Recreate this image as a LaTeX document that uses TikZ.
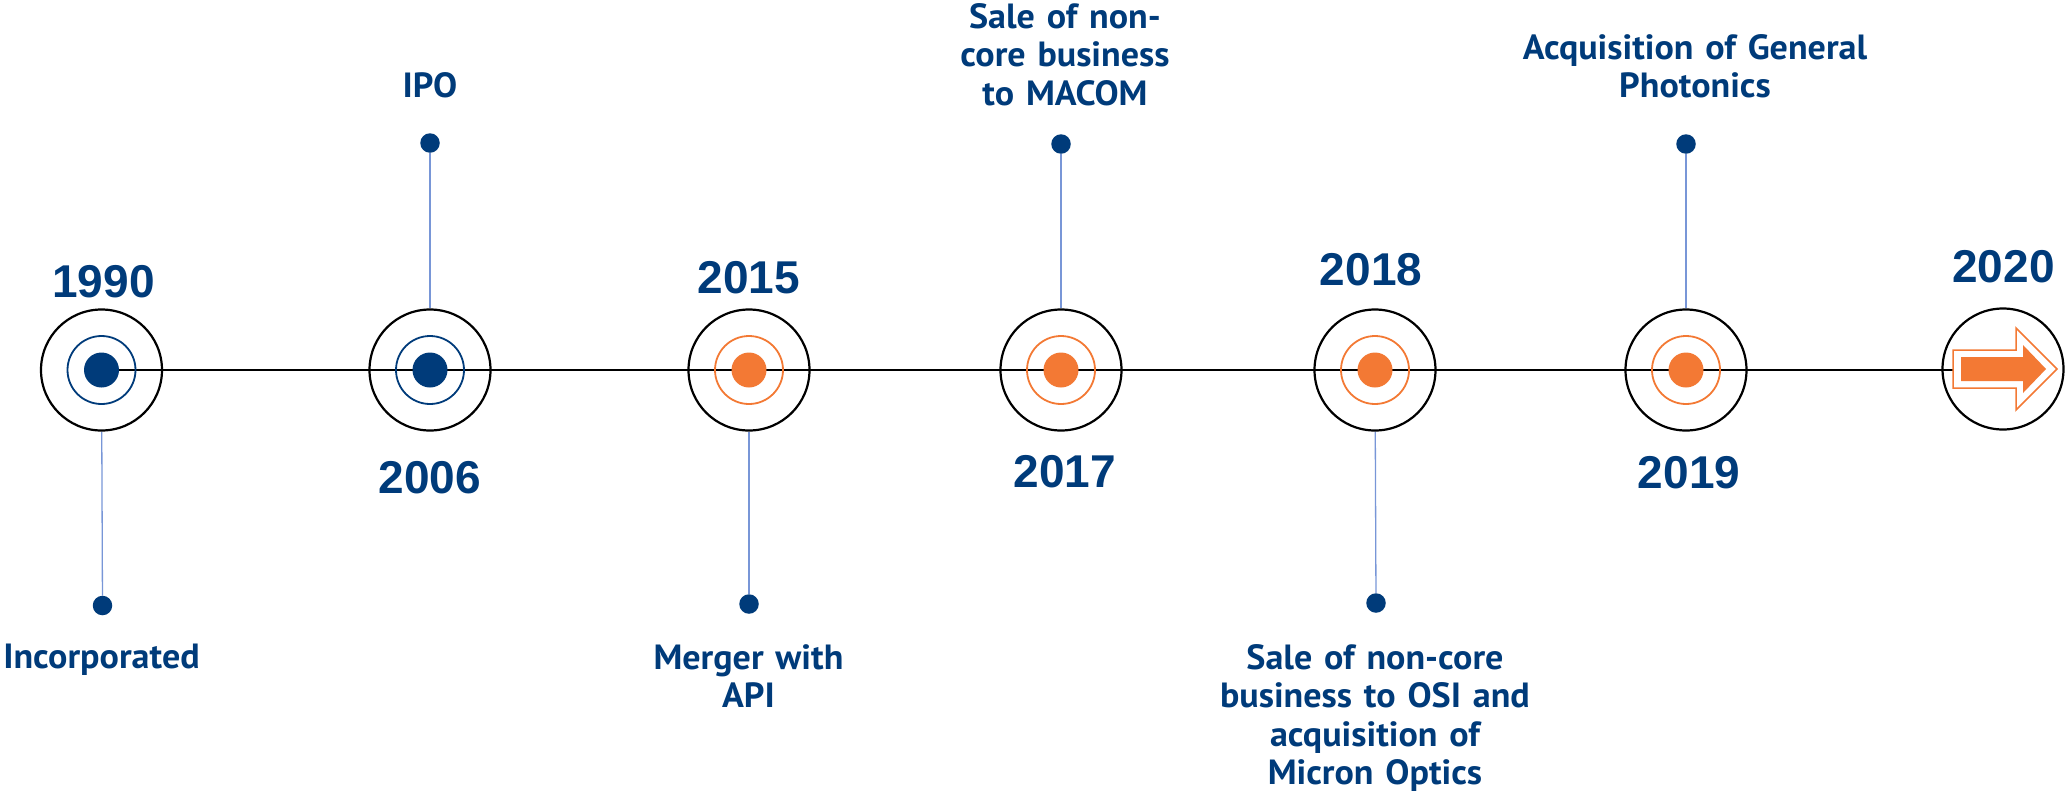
\documentclass[tikz,border=0pt]{standalone}
\usepackage{fontspec}
\newfontfamily\labelfont[WordSpace=1.3,FakeStretch=1.03]{PT Sans}
\newfontfamily\yearfont{Liberation Sans}
\definecolor{navy}{RGB}{0,59,122}
\definecolor{accent}{RGB}{243,121,52}
\definecolor{pinline}{RGB}{120,150,215}
\pgfdeclarelayer{bg}
\pgfsetlayers{bg,main}
\tikzset{
 outerring/.style={circle, draw=black, line width=2.2pt, minimum size=121pt, inner sep=0pt},
 ring/.style={circle, draw=#1, line width=1.8pt, minimum size=68pt, inner sep=0pt},
 core/.style={circle, fill=#1, minimum size=35pt, inner sep=0pt},
 pin/.style={circle, fill=navy, minimum size=19.5pt, inner sep=0pt},
 stem/.style={draw=pinline, line width=1.3pt},
 year/.style={anchor=base, inner sep=0pt, text=navy, font=\yearfont\bfseries\fontsize{46}{50}\selectfont},
 evt/.style={anchor=base, inner sep=0pt, text=navy, font=\labelfont\bfseries\fontsize{35}{38.5}\selectfont},
}
\begin{document}
\begin{tikzpicture}[x=1pt,y=-1pt]
\useasboundingbox (0,0) rectangle (2067,793);
% milestones
\node[outerring] (o1990) at (101.5,370) {};
\node[ring=navy] (r1990) at (101.5,370) {};
\node[core=navy] (d1990) at (101.5,370) {};
\node[outerring] (o2006) at (430,370) {};
\node[ring=navy] (r2006) at (430,370) {};
\node[core=navy] (d2006) at (430,370) {};
\node[outerring] (o2015) at (749,370) {};
\node[ring=accent] (r2015) at (749,370) {};
\node[core=accent] (d2015) at (749,370) {};
\node[outerring] (o2017) at (1061,370) {};
\node[ring=accent] (r2017) at (1061,370) {};
\node[core=accent] (d2017) at (1061,370) {};
\node[outerring] (o2018) at (1375,370) {};
\node[ring=accent] (r2018) at (1375,370) {};
\node[core=accent] (d2018) at (1375,370) {};
\node[outerring] (o2019) at (1686,370) {};
\node[ring=accent] (r2019) at (1686,370) {};
\node[core=accent] (d2019) at (1686,370) {};
\node[outerring] (o2020) at (2003,369) {};
% arrow
\draw[accent, line width=1.5pt, fill=white] (1953,350) -- (2016,350) -- (2016,328) -- (2057,369) -- (2016,410) -- (2016,388) -- (1953,388) -- cycle;
\fill[accent] (1961,357) -- (2023,357) -- (2023,345) -- (2046,369) -- (2023,393) -- (2023,381) -- (1961,381) -- cycle;
\coordinate (arrowtail) at (1953,370);
% pins
\node[pin] (p1990) at (102.5,605.5) {};
\node[pin] (p2006) at (430,143) {};
\node[pin] (p2015) at (749,604) {};
\node[pin] (p2017) at (1061,144) {};
\node[pin] (p2018) at (1376,603) {};
\node[pin] (p2019) at (1686,144) {};
\begin{pgfonlayer}{bg}
\draw[line width=1.5pt] (o1990.center) -- (arrowtail);
\draw[stem] (p1990) -- (o1990);
\draw[stem] (p2006) -- (o2006);
\draw[stem] (p2015) -- (o2015);
\draw[stem] (p2017) -- (o2017);
\draw[stem] (p2018) -- (o2018);
\draw[stem] (p2019) -- (o2019);
\end{pgfonlayer}
% years
\node[year] (y1990) at (103.5,297) {1990};
\node[year] (y2006) at (430,493) {2006};
\node[year] (y2015) at (749,293) {2015};
\node[year] (y2017) at (1065,487) {2017};
\node[year] (y2018) at (1371,285) {2018};
\node[year] (y2019) at (1689,488) {2019};
\node[year] (y2020) at (2003.5,282) {2020};
% events
\node[evt] (e1990) at (101.5,668) {Incorporated};
\node[evt] (e2006) at (430,97) {IPO};
\node[evt] (e2015) at (748.5,669) {\begin{tabular}[t]{@{}c@{}}Merger with\\API\end{tabular}};
\node[evt] (e2017) at (1065,28) {\begin{tabular}[t]{@{}c@{}}Sale of non-\\core business\\to MACOM\end{tabular}};
\node[evt] (e2018) at (1375,669) {\begin{tabular}[t]{@{}c@{}}Sale of non-core\\business to OSI and\\acquisition of\\Micron Optics\end{tabular}};
\node[evt] (e2019) at (1695,59) {\begin{tabular}[t]{@{}c@{}}Acquisition of General\\Photonics\end{tabular}};
\end{tikzpicture}
\end{document}
